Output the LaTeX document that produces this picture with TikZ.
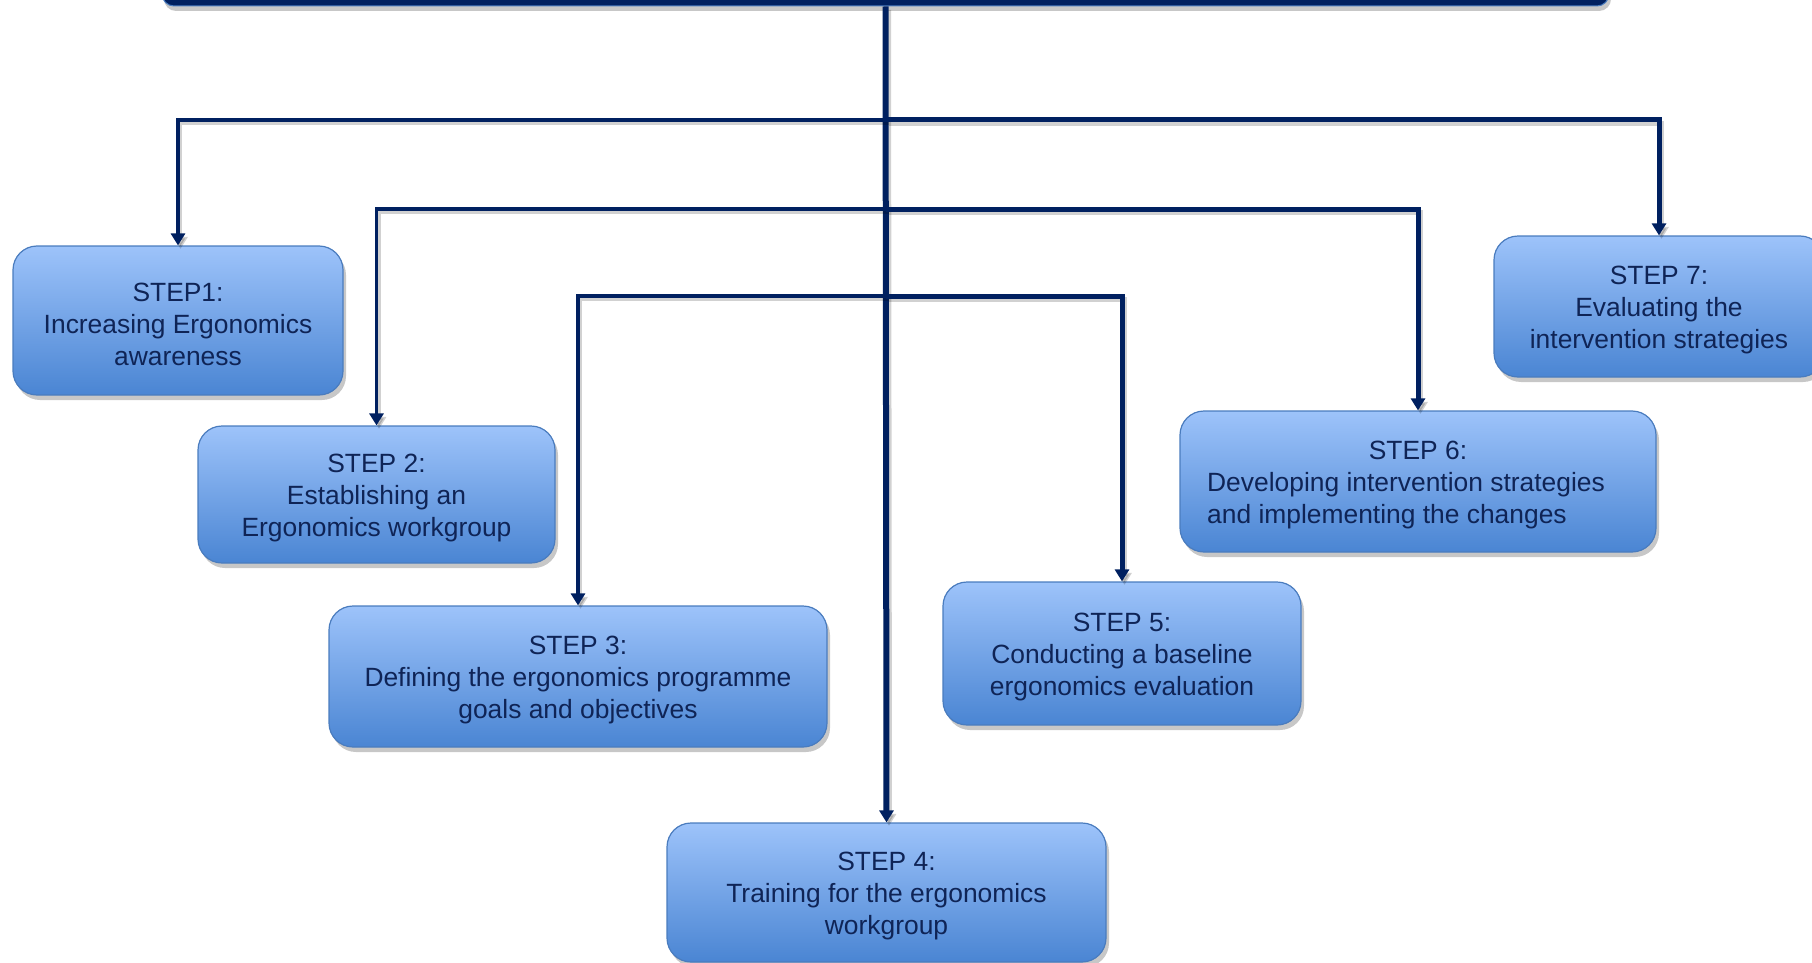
\documentclass[tikz,border=0pt]{standalone}
\usepackage{fontspec}
\setmainfont{Liberation Sans}
\usetikzlibrary{arrows.meta,shadows}
\definecolor{navy}{HTML}{002060}
\definecolor{boxtop}{HTML}{9DC3FA}
\definecolor{boxbot}{HTML}{4A85D3}
\definecolor{boxedge}{HTML}{4A7CBE}
\definecolor{ink}{HTML}{0F2456}
\begin{document}
\begin{tikzpicture}[x=1pt,y=-1pt,
  stepbox/.style={rectangle, rounded corners=24pt, draw=boxedge, line width=1.2pt,
    top color=boxtop, bottom color=boxbot, inner sep=0pt,
    drop shadow={shadow xshift=3pt, shadow yshift=-5pt, fill=black, opacity=0.22}},
  steptext/.style={text=ink, font=\fontsize{26.4}{32}\selectfont, align=center,
    inner sep=0pt},
  link/.style={draw=navy, line width=#1,
    preaction={draw=black, opacity=0.18, line width=#1,
      transform canvas={xshift=2.5pt, yshift=-3.5pt}},
    -{Triangle[width=14pt,length=12pt]}},
  link/.default=4pt
]
\useasboundingbox (0,0) rectangle (1812,963);
\begin{scope}
\clip (0,0) rectangle (1812,963);

% header bar, running off the top edge
\node (top) [rectangle, rounded corners=12pt, fill=navy, draw=boxedge, line width=1pt,
  minimum width=1447pt, minimum height=46pt, inner sep=0pt,
  drop shadow={shadow xshift=2pt, shadow yshift=-5pt, fill=black, opacity=0.22}]
  at (885.5,-17) {};

% branch points on the trunk
\coordinate (j1) at (886,120);
\coordinate (j2) at (886,209);
\coordinate (j3) at (886,296);

% step boxes
\node (s1) [stepbox, minimum width=330pt, minimum height=149pt] at (178,320.5) {};
\node (s2) [stepbox, minimum width=357pt, minimum height=137pt] at (376.5,494.5) {};
\node (s3) [stepbox, minimum width=498pt, minimum height=141pt] at (578,676.5) {};
\node (s4) [stepbox, minimum width=439pt, minimum height=139pt] at (886.5,892.5) {};
\node (s5) [stepbox, minimum width=358pt, minimum height=143pt] at (1122,653.5) {};
\node (s6) [stepbox, minimum width=476pt, minimum height=141pt] at (1418,481.5) {};
\node (s7) [stepbox, minimum width=330pt, minimum height=141pt] at (1659,306.5) {};

% box texts, set slightly below the box centres
\node (t1) [steptext] at ([yshift=-4pt]s1.center)
  {STEP1:\\Increasing Ergonomics\\awareness};
\node (t2) [steptext] at ([yshift=-4pt]s2.center)
  {STEP 2:\\Establishing an\\Ergonomics workgroup};
\node (t3) [steptext] at ([yshift=-4pt]s3.center)
  {STEP 3:\\Defining the ergonomics programme\\goals and objectives};
\node (t4) [steptext] at ([yshift=-4pt]s4.center)
  {STEP 4:\\Training for the ergonomics\\workgroup};
\node (t5) [steptext] at ([yshift=-4pt]s5.center)
  {STEP 5:\\Conducting a baseline\\ergonomics evaluation};
\node (t6) [steptext] at ([yshift=-4pt]s6.center)
  {STEP 6:\\\hbox{Developing intervention strategies\kern24pt}\\\hbox{\makebox[0pt][l]{and implementing the changes}\phantom{Developing intervention strategies}\kern24pt}};
\node (t7) [steptext] at ([yshift=-4pt]s7.center)
  {STEP 7:\\Evaluating the\\intervention strategies};

% trunk and branches
\draw[link=6pt] (top.south) -- (s4.north);
\draw[link=3.6pt] (j1) -| (s1.north);
\draw[link=5pt] (j1) -| (s7.north);
\draw[link=3.6pt] (j2) -| (s2.north);
\draw[link=5pt] (j2) -| (s6.north);
\draw[link=3.6pt] (j3) -| (s3.north);
\draw[link=5pt] (j3) -| (s5.north);
\end{scope}
\end{tikzpicture}
\end{document}
